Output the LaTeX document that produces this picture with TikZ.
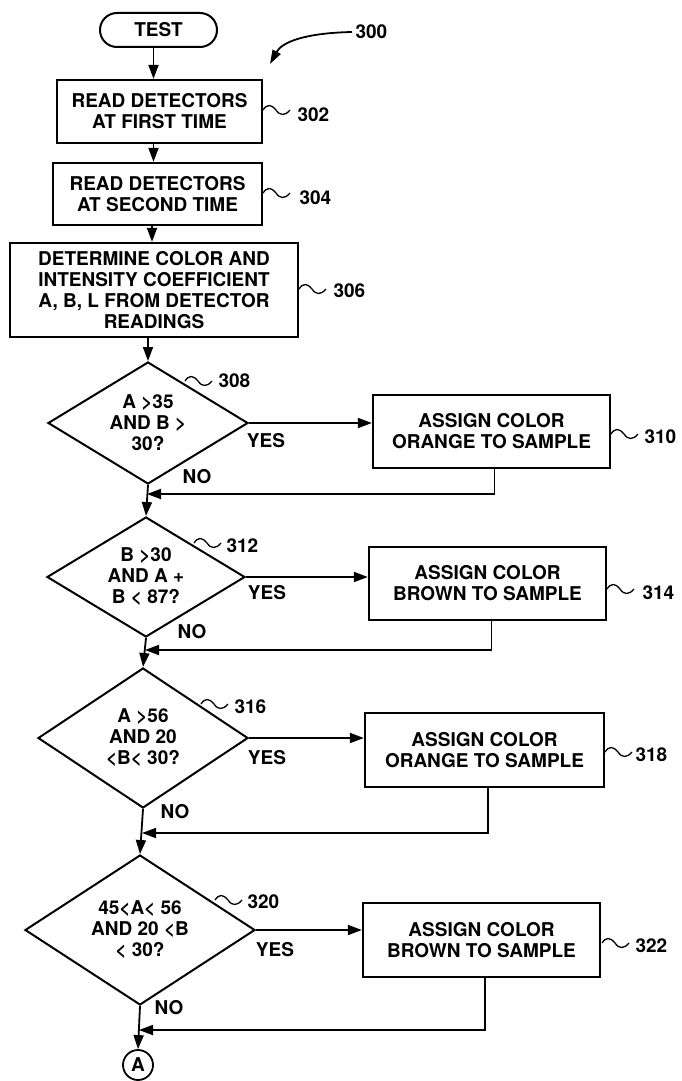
\documentclass[tikz,border=0pt]{standalone}
\usepackage{fontspec}
\setmainfont{TeX Gyre Heros}
\usetikzlibrary{arrows.meta,shapes.geometric}
\begin{document}
\begin{tikzpicture}[x=1pt,y=-1pt,
  every node/.style={font=\bfseries\fontsize{19}{21}\selectfont},
  proc/.style={draw,line width=2.3pt,align=center,inner sep=0pt},
  dec/.style={draw,diamond,line width=2pt,align=center,inner sep=0pt},
  term/.style={draw,rounded corners=17pt,line width=2pt,inner sep=0pt},
  conn/.style={line width=1.8pt},
  arr/.style={conn,-{Triangle[length=14pt,width=10pt]}},
  num/.style={anchor=west},
  tilde/.pic={\draw[line width=1.3pt] (0,0) .. controls (4,-6) and (8,-6) .. (13,0) .. controls (17,6) and (22,6) .. (27,0);}
]
\fill[white] (0,0) rectangle (681,1081);
\useasboundingbox (0,0) rectangle (681,1081);

% main flow
\node[term, minimum width=117pt, minimum height=34pt] (test) at (158.5,30) {TEST};
\node[proc, minimum width=205pt, minimum height=63pt] (b302) at (159.5,111.5) {READ DETECTORS\\AT FIRST TIME};
\node[proc, minimum width=209pt, minimum height=62pt] (b304) at (157.5,194) {READ DETECTORS\\AT SECOND TIME};
\node[proc, minimum width=288pt, minimum height=94pt] (b306) at (154,290) {DETERMINE COLOR AND\\INTENSITY COEFFICIENT\\A, B, L FROM DETECTOR\\READINGS};
\node[dec, minimum width=200pt, minimum height=122pt, aspect=1.64] (d308) at (148,423) {A >35\\AND B >\\30?};
\node[dec, minimum width=198pt, minimum height=120pt, aspect=1.65] (d312) at (146,577) {B >30\\AND A +\\B < 87?};
\node[dec, minimum width=210pt, minimum height=140pt, aspect=1.5] (d316) at (143,738) {A >56\\AND 20\\<B< 30?};
\node[dec, minimum width=230pt, minimum height=150pt, aspect=1.53] (d320) at (140,930) {45<A< 56\\AND 20 <B\\< 30?};
\node[draw,circle,line width=1.8pt,minimum size=30pt,inner sep=0pt] (ca) at (138,1065) {A};

% side boxes
\node[proc, minimum width=237pt, minimum height=73pt] (b310) at (491.5,431.5) {ASSIGN COLOR\\ORANGE TO SAMPLE};
\node[proc, minimum width=237pt, minimum height=73pt] (b314) at (487.5,583.5) {ASSIGN COLOR\\BROWN TO SAMPLE};
\node[proc, minimum width=239pt, minimum height=74pt] (b318) at (484.5,750) {ASSIGN COLOR\\ORANGE TO SAMPLE};
\node[proc, minimum width=237pt, minimum height=74pt] (b322) at (481.5,940) {ASSIGN COLOR\\BROWN TO SAMPLE};

% vertical connectors
\draw[arr] ([xshift=-5pt]test.south) -- ([xshift=-5pt]test.south |- b302.north);
\draw[arr] ([xshift=-6pt]b302.south) -- ([xshift=-6pt]b302.south |- b304.north);
\draw[arr] ([xshift=-5.5pt]b304.south) -- ([xshift=-5.5pt]b304.south |- b306.north);
\draw[arr] (d308.north |- b306.south) -- (d308.north);
\draw[arr] (d308.south) -- (d312.north);
\draw[arr] (d312.south) -- (d316.north);
\draw[arr] (d316.south) -- (d320.north);
\draw[arr] (d320.south) -- (ca.north);

% yes branches
\draw[arr] (d308.east) -- (d308.east -| b310.west);
\draw[arr] (d312.east) -- (d312.east -| b314.west);
\draw[arr] (d316.east) -- (d316.east -| b318.west);
\draw[arr] (d320.east) -- (d320.east -| b322.west);

% returns
\coordinate (m1) at (147,494);
\coordinate (m2) at (145,650);
\coordinate (m3) at (142,833);
\coordinate (m4) at (139,1030);
\draw[arr] ([xshift=3pt]b310.south) |- (m1);
\draw[arr] ([xshift=4pt]b314.south) |- (m2);
\draw[arr] ([xshift=3.5pt]b318.south) |- (m3);
\draw[arr] ([xshift=3.5pt]b322.south) |- (m4);

% yes / no labels
\node (y308) at (266,441) {YES};
\node (y312) at (267,593) {YES};
\node (y316) at (267,758) {YES};
\node (y320) at (275,950) {YES};
\node (n308) at (197,477) {NO};
\node (n312) at (192,632) {NO};
\node (n316) at (175,812) {NO};
\node (n320) at (169,1008) {NO};

% reference numerals
\node[num] (l300) at (352,32) {300};
\coordinate (c300) at (270,64);
\draw[conn,-{Triangle[length=14pt,width=9pt]}] (l300.west) .. controls (305,33) and (282,42) .. (c300);
\pic at (263,110) {tilde}; \node[num] (l302) at (294,115) {302};
\pic at (263,193) {tilde}; \node[num] (l304) at (296,198) {304};
\pic at (299,289) {tilde}; \node[num] (l306) at (330,291) {306};
\pic at (185,381) {tilde}; \node[num] (l308) at (215,381) {308};
\pic at (611,434) {tilde}; \node[num] (l310) at (641,437) {310};
\pic at (194,543) {tilde}; \node[num] (l312) at (223,546) {312};
\pic at (607,589) {tilde}; \node[num] (l314) at (639,593) {314};
\pic at (201,704) {tilde}; \node[num] (l316) at (231,707) {316};
\pic at (605,752) {tilde}; \node[num] (l318) at (632,755) {318};
\pic at (215,900) {tilde}; \node[num] (l320) at (244,902) {320};
\pic at (602,943) {tilde}; \node[num] (l322) at (632,946) {322};
\end{tikzpicture}
\end{document}
